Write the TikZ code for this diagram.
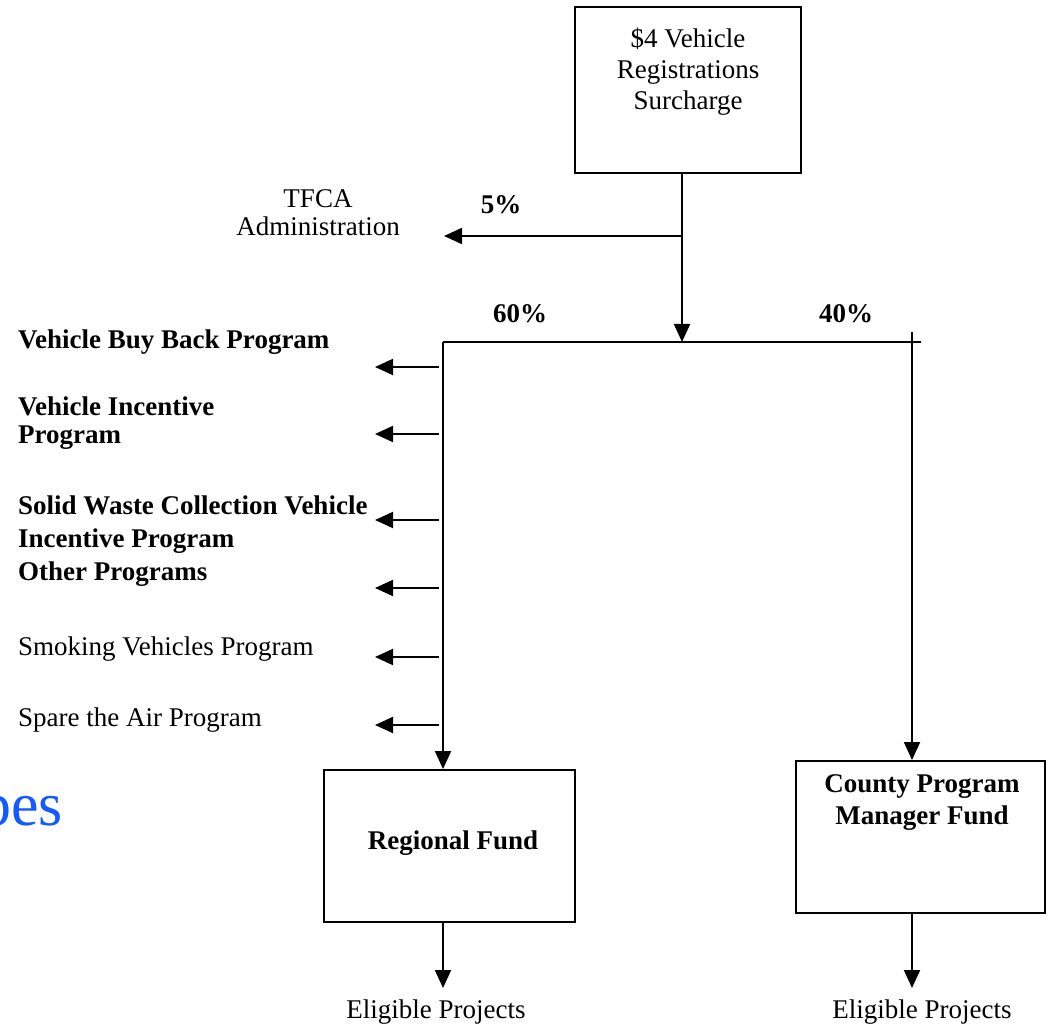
\documentclass[tikz,border=0pt]{standalone}
\usepackage{fontspec}
\setmainfont{Liberation Serif}
\usetikzlibrary{arrows.meta}
\definecolor{slideblue}{RGB}{20,90,255}
\begin{document}
\begin{tikzpicture}[x=1pt,y=-1pt,
  every node/.style={font=\fontsize{27}{32}\selectfont, inner sep=0pt},
  box/.style={draw, line width=1.9pt, rectangle, inner sep=0pt},
  conn/.style={line width=1.9pt},
  arr/.style={line width=1.9pt, -{Triangle[length=18pt,width=16pt]}},
  lbl/.style={anchor=west, align=left},
  bl/.style={font=\fontsize{27}{32}\selectfont\bfseries}
]
\useasboundingbox (0,0) rectangle (1050,1024);
\clip (0,0) rectangle (1050,1024);

% background slide text fragment
\node[anchor=west, text=slideblue, font=\fontsize{62}{70}\selectfont] (slide) at (-20,817) {pes};

% boxes
\node[box, minimum width=226pt, minimum height=166pt] (top) at (688,90) {};
\node[align=center, font=\fontsize{27}{31}\selectfont] (toptxt) at (688,72) {\$4 Vehicle\\Registrations\\Surcharge};

\node[box, minimum width=251pt, minimum height=152pt] (reg) at (449.5,846) {};
\node[bl] (regtxt) at (453,843) {Regional Fund};

\node[box, minimum width=249pt, minimum height=152pt] (cty) at (920.5,837) {};
\node[bl, align=center] (ctytxt) at (922,803) {County Program\\Manager Fund};

% junction coordinates
\coordinate (j1) at (682,236);
\coordinate (j2) at (682,342);
\coordinate (hl) at (443,342);
\coordinate (hr) at (921,342);
\coordinate (rv) at (912,332);
\coordinate (tfcaend) at (444,236);

% main flow
\draw[conn] (top.south -| j1) -- (j1);
\draw[arr] (j1) -- (j2);
\draw[arr] (j1) -- (tfcaend);
\draw[conn] (hl) -- (hr);
\draw[arr] (hl) -- (reg.north -| hl);
\draw[arr] (rv) -- (cty.north -| rv);

% percent labels
\node[bl] (p5) at (501,205) {5\%};
\node[bl] (p60) at (520,314) {60\%};
\node[bl] (p40) at (846,314) {40\%};

% TFCA label
\node[align=center, font=\fontsize{27}{28}\selectfont] (tfca) at (318,213) {TFCA\\Administration};

% left program labels
\node[lbl, bl] (vbb) at (18,342) {Vehicle Buy Back Program};
\node[lbl, bl, font=\fontsize{27}{28}\selectfont\bfseries] (vip) at (18,423) {Vehicle Incentive\\Program};
\node[lbl, bl, font=\fontsize{27}{33}\selectfont\bfseries] (swc) at (18,541) {Solid Waste Collection Vehicle\\Incentive Program\\Other Programs};
\node[lbl] (svp) at (18,649) {Smoking Vehicles Program};
\node[lbl] (sta) at (18,720) {Spare the Air Program};

% left arrows
\foreach \y/\n in {367/1,434/2,520/3,588/4,657/5,725/6}{
  \coordinate (as\n) at (439,\y);
  \coordinate (at\n) at (375,\y);
  \draw[arr] (as\n) -- (at\n);
}

% eligible projects
\coordinate (re) at (443,988);
\coordinate (ce) at (912,988);
\draw[arr] (reg.south -| re) -- (re);
\draw[arr] (cty.south -| ce) -- (ce);
\node (elr) at (436,1012) {Eligible Projects};
\node (elc) at (922,1012) {Eligible Projects};
\end{tikzpicture}
\end{document}
